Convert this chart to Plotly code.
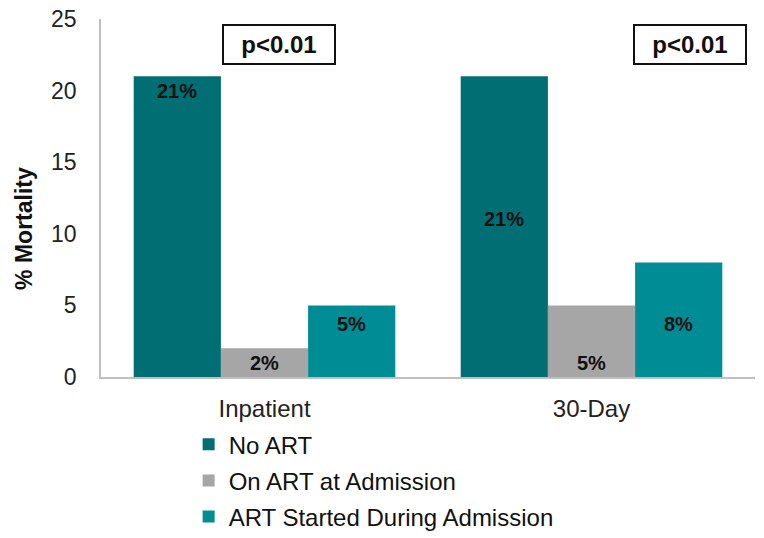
import plotly.graph_objects as go

categories = ["Inpatient", "30-Day"]
series_names = ["No ART", "On ART at Admission", "ART Started During Admission"]
no_art = [21, 21]
on_art = [2, 5]
art_started = [5, 8]
p_values = ["p<0.01", "p<0.01"]

colors = ["#006E73", "#A6A6A6", "#008C94"]
series_values = [no_art, on_art, art_started]

FONT = "Liberation Sans, Arial, sans-serif"

fig = go.Figure()
for name, vals, col in zip(series_names, series_values, colors):
    fig.add_trace(go.Bar(
        x=categories, y=vals, name=name, legendgroup=name,
        marker=dict(color=col, line=dict(width=0)),
        hoverinfo="skip",
    ))

# value-label vertical placement (data units) as in the original chart
label_y = {
    (0, 0): 20.0, (0, 1): 11.0,
    (1, 0): 1.0, (1, 1): 1.0,
    (2, 0): 3.7, (2, 1): 3.7,
}
bar_w = 0.8 / 3
offsets = [-bar_w, 0, bar_w]
annotations = []
for si, vals in enumerate(series_values):
    for ci, v in enumerate(vals):
        annotations.append(dict(
            x=ci + offsets[si], y=label_y[(si, ci)], xref="x", yref="y",
            text=f"<b>{v}%</b>", showarrow=False,
            font=dict(family=FONT, size=20, color="#111111"),
        ))

p_x = [0.044, 1.301]
for ci, p in enumerate(p_values):
    annotations.append(dict(
        x=p_x[ci], y=23.25, xref="x", yref="y", xanchor="center", yanchor="middle",
        text=f"<b>{p}</b>", showarrow=False,
        font=dict(family=FONT, size=24, color="#111111"),
        bordercolor="#111111", borderwidth=2, borderpad=5, bgcolor="white",
        width=100, height=27,
    ))

annotations.append(dict(
    x=-0.118, y=0.416, xref="paper", yref="paper", textangle=-90,
    xanchor="center", yanchor="middle",
    text="<b>% Mortality</b>", showarrow=False,
    font=dict(family=FONT, size=23, color="#111111"),
))

fig.update_layout(
    width=756, height=530,
    margin=dict(l=93, r=9, t=11, b=161, autoexpand=False),
    paper_bgcolor="white", plot_bgcolor="white",
    barmode="group", bargap=0.2, bargroupgap=0,
    font=dict(family=FONT, color="#222222"),
    showlegend=True,
    legend=dict(
        orientation="v", x=0.134, y=-0.126, xanchor="left", yanchor="top",
        font=dict(size=24, color="#111111"), tracegroupgap=2,
        itemwidth=30, traceorder="grouped",
    ),
    annotations=annotations,
    xaxis=dict(
        range=[-0.5, 1.5], showline=True, linecolor="#BFBFBF", linewidth=1.5,
        ticks="", tickfont=dict(size=24, color="#222222"), showgrid=False,
        automargin=False, ticklabelstandoff=9,
    ),
    yaxis=dict(
        range=[0, 25], dtick=5, showline=True, linecolor="#BFBFBF", linewidth=1.5,
        ticks="", tickfont=dict(size=23, color="#222222"), showgrid=False,
        zeroline=False, automargin=False, ticklabelstandoff=18,
        ticklabeloverflow="allow",
    ),
)

fig.write_html("out.html")
